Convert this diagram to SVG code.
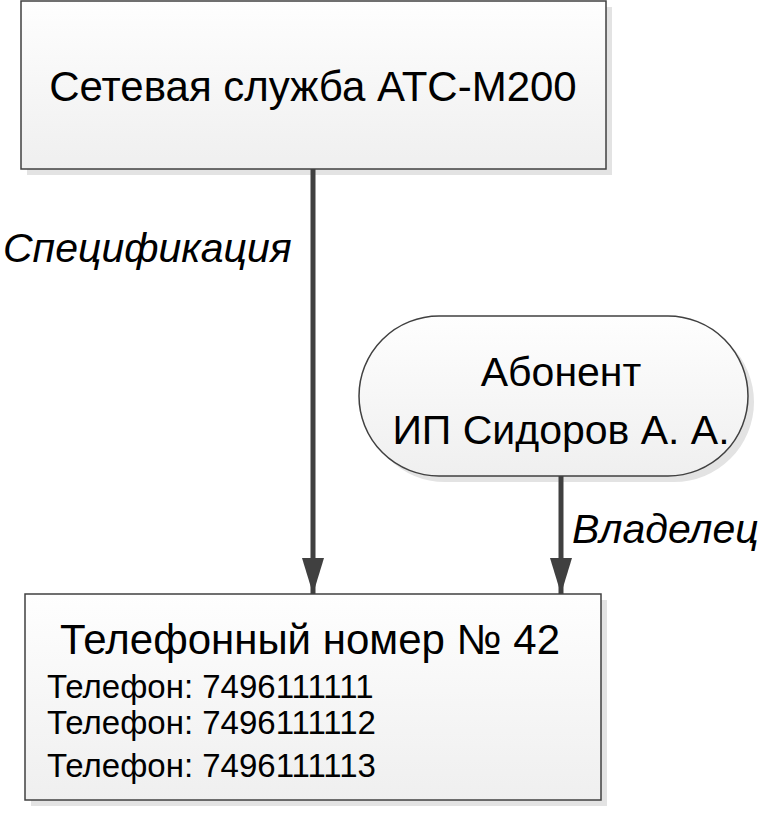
<svg xmlns="http://www.w3.org/2000/svg" width="769" height="813" viewBox="0 0 769 813">
<defs>
<linearGradient id="g" x1="0" y1="0" x2="0" y2="1"><stop offset="0" stop-color="#fefefe"/><stop offset="1" stop-color="#efefef"/></linearGradient>
<marker id="ah" markerWidth="36" markerHeight="22" refX="36" refY="11" orient="auto" markerUnits="userSpaceOnUse" viewBox="0 0 36 22"><path d="M0,0 L36,11 L0,22 Z" fill="#404040"/></marker>
<style>
.s{fill:#e3e3e3}
.b{fill:url(#g);stroke:#404040;stroke-width:1.5}
text{font-family:"Liberation Sans",Arial,sans-serif;fill:#000}
.c{stroke:#404040;stroke-width:5;fill:none}
.l{font-style:italic;font-size:41px}
.t{font-size:33px}
</style>
</defs>
<g id="n1">
<rect class="s" x="27" y="7" width="585" height="168"/>
<rect class="b" x="21" y="1" width="585" height="168"/>
<text x="313" y="101" font-size="42" text-anchor="middle">Сетевая служба АТС-М200</text>
</g>
<g id="n2">
<rect class="s" x="365" y="322" width="389" height="160" rx="80"/>
<rect class="b" x="359" y="316" width="389" height="160" rx="80"/>
<text x="561" y="386" font-size="41" text-anchor="middle">Абонент</text>
<text x="561" y="444" font-size="41" text-anchor="middle">ИП Сидоров А. А.</text>
</g>
<g id="n3">
<rect class="s" x="31" y="600" width="576" height="206"/>
<rect class="b" x="25" y="594" width="576" height="206"/>
<text x="60" y="654" font-size="42">Телефонный номер № 42</text>
<text class="t" x="47" y="698">Телефон: 7496111111</text>
<text class="t" x="47" y="734">Телефон: 7496111112</text>
<text class="t" x="47" y="777">Телефон: 7496111113</text>
</g>
<g id="connectors">
<path class="c" d="M313,169 V594" marker-end="url(#ah)"/>
<path class="c" d="M561,476 V594" marker-end="url(#ah)"/>
<text class="l" x="3" y="262">Спецификация</text>
<text class="l" x="572" y="543">Владелец</text>
</g>
</svg>
